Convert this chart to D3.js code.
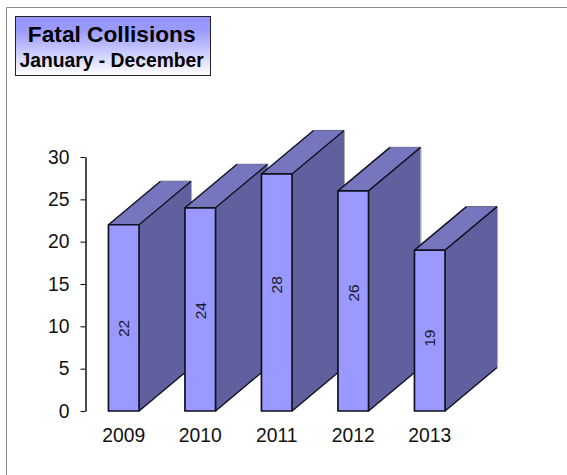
<!DOCTYPE html>
<html><head><meta charset="utf-8">
<style>html,body{margin:0;padding:0;background:#fff}svg{display:block}text{font-family:"Liberation Sans",Arial,sans-serif}</style>
<script src="https://cdn.jsdelivr.net/npm/d3@7"></script></head>
<body><div id="chart"></div>
<script>
const years = ["2009","2010","2011","2012","2013"];
const collisions = [22,24,28,26,19];
const labelLevels = [9.75,11.85,14.9,13.95,8.6];
const yTicks = [0,5,10,15,20,25,30];
const titleLines = ["Fatal Collisions","January - December"];

const svg = d3.select("#chart").append("svg").attr("width",567).attr("height",475);
const defs = svg.append("defs");
const g = defs.append("linearGradient").attr("id","tg").attr("x1",0).attr("x2",0).attr("y1",0).attr("y2",1);
g.append("stop").attr("offset","0%").attr("stop-color","#9393fb");
g.append("stop").attr("offset","25%").attr("stop-color","#9c9cfc");
g.append("stop").attr("offset","100%").attr("stop-color","#ffffff");

svg.append("path").attr("d","M6.5,475V7.5H567").attr("fill","none").attr("stroke","#8a8a8a").attr("stroke-width",1);

const x = d3.scaleBand().domain(years).range([85.5,468]).paddingInner(0.6).paddingOuter(0.3);
const y = d3.scaleLinear().domain([0,30]).range([411,157]);
const dx = 52, dy = -43.5;
const edge = "#10101f";

const bars = svg.append("g").selectAll("g").data(years).join("g");
bars.each(function(yr,i){
  const b = d3.select(this), v = collisions[i];
  const x0 = x(yr), x1 = x0+x.bandwidth(), yt = y(v), yb = y(0);
  b.append("path").attr("d",`M${x1},${yb}L${x1+dx},${yb+dy}L${x1+dx},${yt+dy}L${x1},${yt}Z`)
    .attr("fill","#60609f").attr("stroke","none");
  b.append("path").attr("d",`M${x1},${yb}L${x1+dx},${yb+dy}`).attr("stroke",edge).attr("stroke-width",1.4).attr("fill","none");
  b.append("path").attr("d",`M${x1+dx+.5},${yb+dy}L${x1+dx+.5},${yt+dy}`).attr("stroke","#a9a9b4").attr("stroke-width",1).attr("fill","none");
  b.append("path").attr("d",`M${x0+dx},${yt+dy}L${x1+dx},${yt+dy}`).attr("stroke","#55555f").attr("stroke-width",1);
  b.append("path").attr("d",`M${x0},${yt}L${x0+dx},${yt+dy}L${x1+dx},${yt+dy}L${x1},${yt}Z`)
    .attr("fill","#7676bf").attr("stroke","none");
  b.append("path").attr("d",`M${x0},${yt}L${x0+dx},${yt+dy}M${x1},${yt}L${x1+dx},${yt+dy}`)
    .attr("stroke",edge).attr("stroke-width",1.4).attr("fill","none");
  b.append("rect").attr("x",x0).attr("y",yt).attr("width",x.bandwidth()).attr("height",yb-yt)
    .attr("fill","#9999ff").attr("stroke",edge).attr("stroke-width",1.7).attr("stroke-linejoin","round");
  b.append("text").attr("transform",`translate(${x0+x.bandwidth()/2+5.3},${y(labelLevels[i])}) rotate(-90)`)
    .attr("text-anchor","middle").attr("font-size",15.5).attr("fill","#1a1a2a").text(v);
});

const ya = svg.append("g").attr("transform","translate(85.5,0)")
  .call(d3.axisLeft(y).tickValues(yTicks).tickSize(5).tickSizeOuter(0).tickPadding(11));
ya.select(".domain").attr("stroke","#111").attr("stroke-width",1.5);
ya.selectAll(".tick line").attr("stroke","#111").attr("stroke-width",1.1);
ya.selectAll("text").attr("font-size",19.3).attr("font-family",'"Liberation Sans",Arial,sans-serif').attr("fill","#111");

const xa = svg.append("g").attr("transform","translate(0,411)")
  .call(d3.axisBottom(x).tickSize(0).tickPadding(17.5));
xa.select(".domain").remove();
xa.selectAll("text").attr("font-size",19.3).attr("font-family",'"Liberation Sans",Arial,sans-serif').attr("fill","#111");

svg.append("rect").attr("x",15.5).attr("y",16.5).attr("width",195).attr("height",59)
  .attr("fill","url(#tg)").attr("stroke","#222").attr("stroke-width",1);
svg.append("text").attr("x",111.7).attr("y",41.5).attr("text-anchor","middle").attr("font-size",22.7).attr("font-weight","bold").attr("fill","#000").text(titleLines[0]);
svg.append("text").attr("x",111.7).attr("y",66.5).attr("text-anchor","middle").attr("font-size",19.3).attr("font-weight","bold").attr("fill","#000").text(titleLines[1]);
</script></body></html>
